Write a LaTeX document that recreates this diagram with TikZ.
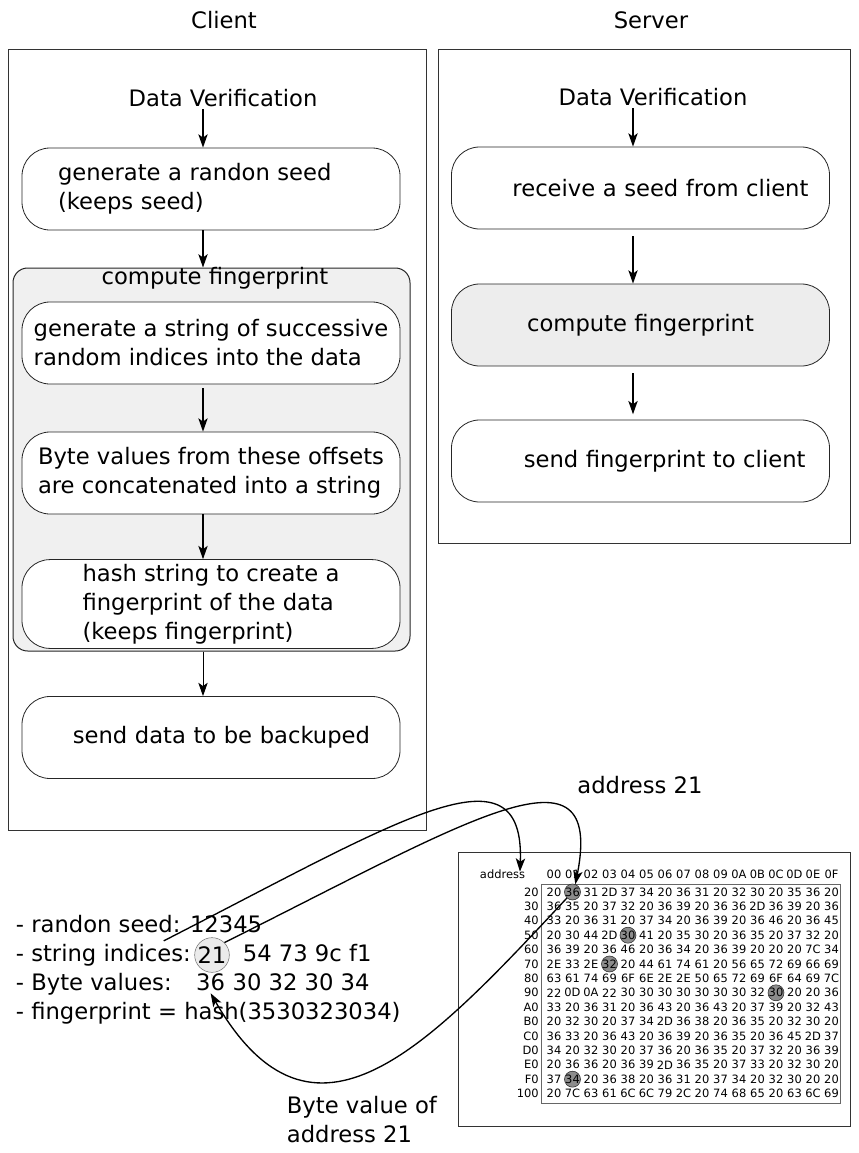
\documentclass[tikz,border=0pt]{standalone}
\usepackage{fontspec}
\setmainfont{DejaVu Sans}
\usetikzlibrary{arrows.meta,positioning}

\newcommand{\bigtxt}{\fontsize{17}{21.75}\selectfont}
\newcommand{\hextxt}{\fontsize{8.6}{10}\selectfont}

\tikzset{
  flow/.style={-{Stealth[length=10pt,width=7pt,inset=2.5pt]}, line width=1pt},
  frame/.style={draw=black!80, line width=0.75pt},
  txt/.style={font=\bigtxt, inner sep=2pt},
  stepbox/.style={draw=black!85, line width=0.6pt, rounded corners=21pt, fill=white,
    minimum width=283.5pt, minimum height=61.5pt, align=left, font=\bigtxt},
  group/.style={draw=black!85, line width=0.75pt, rounded corners=11pt, fill=black!6,
    minimum width=297.75pt, minimum height=287.25pt},
  small/.style={font=\hextxt, inner sep=0pt},
  hexcell/.style={font=\hextxt, inner sep=0pt},
  hilite/.style={circle, draw=black!85, fill=black!45, minimum size=12pt, inner sep=0pt},
  idxcirc/.style={circle, draw=black!55, fill=black!8, minimum size=26pt, inner sep=0pt, font=\bigtxt}
}

\begin{document}
\begin{tikzpicture}[x=0.75pt,y=-0.75pt]
\useasboundingbox (0,0) rectangle (858,1153);

% titles and frames
\node[txt, anchor=base] (client) at (224,28) {Client};
\node[txt, anchor=base] (server) at (651,28) {Server};
\draw[frame] (8,49) rectangle (426,830);
\draw[frame] (438,49) rectangle (850,543);
\coordinate (cspine) at (203,0);
\coordinate (sspine) at (633,0);

% client steps
\node[txt, anchor=base] (cdv) at (223,106) {Data Verification};
\node[stepbox, text width=229.5pt] (seed) at (211,189) {generate a randon seed\\(keeps seed)};
\node[group] (cfp) at (211.5,459.5) {};
\node[txt, anchor=base] (cfplbl) at (215,284) {compute fingerprint};
\node[stepbox] (indices) at (211,343) {generate a string of successive\\random indices into the data};
\node[stepbox] (bytes) at (211,473) {Byte values from these offsets\\are concatenated into a string};
\node[stepbox] (hash) at (211,604) {hash string to create a\\fingerprint of the data\\(keeps fingerprint)};
\node[stepbox, text width=238.5pt, align=right] (send) at (211,737.5) {send data to be backuped};

\draw[flow] (cdv.south -| cspine) -- (seed.north -| cspine);
\draw[flow] (seed.south -| cspine) -- (cfp.north -| cspine);
\draw[flow, shorten <=3pt] (indices.south -| cspine) -- (bytes.north -| cspine);
\draw[flow] (bytes.south -| cspine) -- (hash.north -| cspine);
\draw[flow, line width=0.6pt] (cfp.south -| cspine) -- (send.north -| cspine);

% server steps
\node[txt, anchor=base] (sdv) at (653,105) {Data Verification};
\node[stepbox, text width=252pt, align=right] (recv) at (640.5,188) {receive a seed from client};
\node[stepbox, fill=black!7, align=center] (scfp) at (640.5,325) {compute fingerprint};
\node[stepbox, text width=247.5pt, align=right] (sendfp) at (640.5,461) {send fingerprint to client};

\draw[flow] (sdv.south -| sspine) -- (recv.north -| sspine);
\draw[flow, shorten <=5pt] (recv.south -| sspine) -- (scfp.north -| sspine);
\draw[flow, shorten <=5pt, shorten >=4pt] (scfp.south -| sspine) -- (sendfp.north -| sspine);

% worked example
\node[txt, anchor=base west] (seedval) at (13,932) {- randon seed: 12345};
\node[txt, anchor=base west] (strind) at (13,961) {- string indices:};
\node[idxcirc] (i21) at (212,955) {21};
\node[txt, anchor=base west] (restind) at (240,961) {54 73 9c f1};
\node[txt, anchor=base west] (bytelbl) at (13,990) {- Byte values:};
\node[txt, anchor=base west] (bv36) at (193.3,990) {36};
\node[txt, anchor=base west] (bvrest) at (229.7,990) {30 32 30 34};
\node[txt, anchor=base west] (fpline) at (13,1019) {- fingerprint = hash(3530323034)};
\node[txt, anchor=north west, align=left] (bvnote) at (284,1093) {Byte value of\\address 21};
\node[txt, anchor=base] (addrnote) at (640,793) {address 21};

% memory dump
\draw[frame] (458,852) rectangle (850,1126);
\draw[draw=black!60, line width=0.75pt] (541,884) rectangle (840,1103);
\node[small, anchor=base] (addrhdr) at (502.5,878) {address};
\foreach \h [count=\c from 0] in {00,01,02,03,04,05,06,07,08,09,0A,0B,0C,0D,0E,0F}
  \node[small, anchor=base] (hd\c) at (554+18.5*\c,878) {\h};

\foreach \r/\c/\nm in {0/1/h20, 3/4/h50, 5/3/h70, 7/12/h90, 13/1/hF0}
  \node[hilite] (\nm) at (554+18.5*\c,892+14.4*\r) {};

\foreach \lbl/\vals [count=\r from 0] in {
  20/{20,36,31,2D,37,34,20,36,31,20,32,30,20,35,36,20},
  30/{36,35,20,37,32,20,36,39,20,36,36,2D,36,39,20,36},
  40/{33,20,36,31,20,37,34,20,36,39,20,36,46,20,36,45},
  50/{20,30,44,2D,30,41,20,35,30,20,36,35,20,37,32,20},
  60/{36,39,20,36,46,20,36,34,20,36,39,20,20,20,7C,34},
  70/{2E,33,2E,32,20,44,61,74,61,20,56,65,72,69,66,69},
  80/{63,61,74,69,6F,6E,2E,2E,50,65,72,69,6F,64,69,7C},
  90/{22,0D,0A,22,30,30,30,30,30,30,30,32,30,20,20,36},
  A0/{33,20,36,31,20,36,43,20,36,43,20,37,39,20,32,43},
  B0/{20,32,30,20,37,34,2D,36,38,20,36,35,20,32,30,20},
  C0/{36,33,20,36,43,20,36,39,20,36,35,20,36,45,2D,37},
  D0/{34,20,32,30,20,37,36,20,36,35,20,37,32,20,36,39},
  E0/{20,36,36,20,36,39,2D,36,35,20,37,33,20,32,30,20},
  F0/{37,34,20,36,38,20,36,31,20,37,34,20,32,30,20,20},
  100/{20,7C,63,61,6C,6C,79,2C,20,74,68,65,20,63,6C,69}} {
  \node[hexcell, anchor=east] (row\lbl) at (539,892+14.4*\r) {\lbl};
  \foreach \v [count=\c from 0] in \vals
    \node[hexcell] (c\lbl-\c) at (554+18.5*\c,892+14.4*\r) {\v};
}

% lookups
\draw[flow] ([xshift=-22.5pt]strind.north east) .. controls (400,820) and (525,740) .. ([xshift=-4pt,yshift=-2pt]addrhdr.north east);
\draw[flow] (i21.45) .. controls (470,820) and (605,735) .. (h20.70);
\draw[flow] (h20) to[out=-133,in=-60,looseness=1.42] (bv36.south);
\end{tikzpicture}
\end{document}
